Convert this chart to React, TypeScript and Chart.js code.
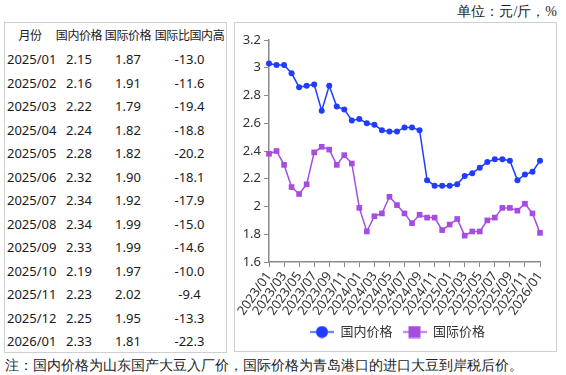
import { useEffect, useRef } from "react";
import { Chart, registerables } from "chart.js";

Chart.register(...registerables);

const months = [
  "2023/01", "2023/02", "2023/03", "2023/04", "2023/05", "2023/06", "2023/07", "2023/08", "2023/09", "2023/10", "2023/11", "2023/12",
  "2024/01", "2024/02", "2024/03", "2024/04", "2024/05", "2024/06", "2024/07", "2024/08", "2024/09", "2024/10", "2024/11", "2024/12",
  "2025/01", "2025/02", "2025/03", "2025/04", "2025/05", "2025/06", "2025/07", "2025/08", "2025/09", "2025/10", "2025/11", "2025/12",
  "2026/01",
];

const domesticPrice = [
  3.03, 3.02, 3.02, 2.96, 2.86, 2.87, 2.88, 2.69, 2.87, 2.72, 2.70, 2.62,
  2.63, 2.60, 2.59, 2.55, 2.54, 2.54, 2.57, 2.57, 2.55, 2.19, 2.15, 2.15,
  2.15, 2.16, 2.22, 2.24, 2.28, 2.32, 2.34, 2.34, 2.33, 2.19, 2.23, 2.25,
  2.33,
];

const intlPrice = [
  2.38, 2.40, 2.30, 2.14, 2.09, 2.16, 2.39, 2.43, 2.41, 2.30, 2.37, 2.31,
  1.99, 1.82, 1.93, 1.95, 2.07, 2.01, 1.95, 1.88, 1.94, 1.92, 1.92, 1.83,
  1.87, 1.91, 1.79, 1.82, 1.82, 1.90, 1.92, 1.99, 1.99, 1.97, 2.02, 1.95,
  1.81,
];

const tableHeaders = ["月份", "国内价格", "国际价格", "国际比国内高"];
const tableMonths = [
  "2025/01", "2025/02", "2025/03", "2025/04", "2025/05", "2025/06", "2025/07",
  "2025/08", "2025/09", "2025/10", "2025/11", "2025/12", "2026/01",
];
const tableDomestic = ["2.15", "2.16", "2.22", "2.24", "2.28", "2.32", "2.34", "2.34", "2.33", "2.19", "2.23", "2.25", "2.33"];
const tableIntl = ["1.87", "1.91", "1.79", "1.82", "1.82", "1.90", "1.92", "1.99", "1.99", "1.97", "2.02", "1.95", "1.81"];
const tableDiff = ["-13.0", "-11.6", "-19.4", "-18.8", "-20.2", "-18.1", "-17.9", "-15.0", "-14.6", "-10.0", "-9.4", "-13.3", "-22.3"];

const seriesNames = ["国内价格", "国际价格"];
const unitText = "单位：元/斤，%";
const noteText = "注：国内价格为山东国产大豆入厂价，国际价格为青岛港口的进口大豆到岸税后价。";

const BLUE = "#1f3cff";
const PURPLE = "#a64ddf";
const AXIS = "#8a8a8a";
const FONT = '"Noto Sans", "Noto Sans CJK SC", sans-serif';

function makeIcon(color: string, shape: "circle" | "rect") {
  const c = document.createElement("canvas");
  c.width = 24;
  c.height = 13;
  const g = c.getContext("2d")!;
  g.strokeStyle = color;
  g.lineWidth = 1.5;
  g.beginPath();
  g.moveTo(0, 6.5);
  g.lineTo(24, 6.5);
  g.stroke();
  g.fillStyle = color;
  if (shape === "circle") {
    g.beginPath();
    g.arc(12, 6.5, 6, 0, Math.PI * 2);
    g.fill();
  } else {
    g.fillRect(6, 0.5, 12, 12);
  }
  return c;
}

const shiftLegend = {
  id: "shiftLegend",
  afterLayout(chart: any) {
    const lg = chart.legend;
    if (lg) {
      lg.left += 10;
      lg.right += 10;
    }
  },
};

function ChartBox() {
  const ref = useRef<HTMLCanvasElement | null>(null);
  useEffect(() => {
    if (!ref.current) return;
    const icons = [makeIcon(BLUE, "circle"), makeIcon(PURPLE, "rect")];
    const chart = new Chart(ref.current, {
      type: "line",
      data: {
        labels: months,
        datasets: [
          {
            label: seriesNames[0],
            data: domesticPrice,
            borderColor: BLUE,
            backgroundColor: BLUE,
            borderWidth: 1.5,
            pointStyle: "circle",
            pointRadius: 3,
            pointBorderWidth: 0,
            tension: 0,
          },
          {
            label: seriesNames[1],
            data: intlPrice,
            borderColor: PURPLE,
            backgroundColor: PURPLE,
            borderWidth: 1.5,
            pointStyle: "rect",
            pointRadius: 4,
            pointBorderWidth: 0,
            tension: 0,
          },
        ],
      },
      plugins: [shiftLegend],
      options: {
        responsive: false,
        animation: false,
        layout: { padding: { left: 0, right: 16, top: 17, bottom: 3.5 } },
        plugins: {
          tooltip: { enabled: false },
          legend: {
            position: "bottom",
            labels: {
              usePointStyle: true,
              pointStyleWidth: 24,
              padding: 10,
              color: "#333",
              font: { family: FONT, size: 13 },
              generateLabels: (ch: any) => {
                const items = (Chart as any).defaults.plugins.legend.labels.generateLabels(ch);
                items.forEach((it: any, i: number) => {
                  it.pointStyle = icons[i];
                });
                return items;
              },
            },
          },
        },
        scales: {
          x: {
            type: "category",
            offset: false,
            afterFit: (s: any) => {
              s.height = 53.5;
            },
            grid: {
              display: true,
              drawOnChartArea: false,
              drawTicks: true,
              tickLength: 5,
              color: AXIS,
            },
            border: { display: true, color: AXIS, width: 1.5 },
            ticks: {
              autoSkip: false,
              maxRotation: 55,
              minRotation: 55,
              padding: 2,
              color: "#333",
              font: { family: FONT, size: 13 },
              callback: (_v: any, i: number) => (i % 2 === 0 ? months[i] : null),
            },
          },
          y: {
            min: 1.6,
            max: 3.2,
            afterFit: (s: any) => {
              s.width = 34;
            },
            grid: {
              display: true,
              drawOnChartArea: false,
              drawTicks: true,
              tickLength: 5,
              color: AXIS,
            },
            border: { display: true, color: AXIS, width: 1.5 },
            ticks: {
              stepSize: 0.2,
              padding: 3,
              color: "#333",
              font: { family: FONT, size: 13 },
              callback: (v: any) => String(Math.round(Number(v) * 10) / 10),
            },
          },
        },
      },
    } as any);
    return () => chart.destroy();
  }, []);
  return (
    <canvas
      ref={ref}
      width={321}
      height={329}
      style={{ position: "absolute", left: 235, top: 23, width: 321, height: 329 }}
    />
  );
}

export default function App() {
  const rowY = (i: number) => 36.5 + 23.5 * i;
  const cell = (
    text: string,
    cx: number,
    cy: number,
    key: string,
    align: "center" | "left" = "center",
    extra: any = {}
  ) => (
    <div
      key={key}
      style={{
        position: "absolute",
        left: align === "center" ? cx - 40 : cx,
        top: cy - 11,
        width: 80,
        height: 20,
        lineHeight: "20px",
        textAlign: align,
        whiteSpace: "nowrap",
        ...extra,
      }}
    >
      {text}
    </div>
  );
  const cols = [30, 79, 128, 189.5];
  const headStyle = { fontSize: 12, letterSpacing: "-0.4px" };
  return (
    <div
      style={{
        position: "absolute",
        left: 0,
        top: 0,
        width: 566,
        height: 375,
        background: "#fff",
        overflow: "hidden",
      }}
    >
      <div
        style={{
          position: "absolute",
          right: 9,
          top: 2,
          fontSize: 14,
          lineHeight: "20px",
          fontFamily: "serif",
          color: "#222",
          whiteSpace: "nowrap",
        }}
      >
        {unitText}
      </div>
      <div
        style={{
          position: "absolute",
          left: 4,
          top: 22,
          width: 221,
          height: 329,
          border: "1px solid #cfcfcf",
        }}
      />
      <div style={{ position: "absolute", left: 0, top: 0, fontFamily: FONT, fontSize: 13, color: "#1a1a1a" }}>
        {tableHeaders.map((h, j) => cell(h, cols[j], rowY(0), "h" + j, "center", headStyle))}
        {tableMonths.map((m, i) => (
          <div key={"r" + i}>
            {cell(m, 7, rowY(i + 1), "m" + i, "left")}
            {cell(tableDomestic[i], cols[1], rowY(i + 1), "d" + i)}
            {cell(tableIntl[i], cols[2], rowY(i + 1), "n" + i)}
            {cell(tableDiff[i], cols[3], rowY(i + 1), "f" + i)}
          </div>
        ))}
      </div>
      <div
        style={{
          position: "absolute",
          left: 234,
          top: 22,
          width: 321,
          height: 328,
          border: "1px solid #cfcfcf",
        }}
      />
      <ChartBox />
      <div
        style={{
          position: "absolute",
          left: 5,
          top: 356,
          fontSize: 14,
          lineHeight: "20px",
          fontFamily: "serif",
          color: "#222",
          whiteSpace: "nowrap",
        }}
      >
        {noteText}
      </div>
    </div>
  );
}
